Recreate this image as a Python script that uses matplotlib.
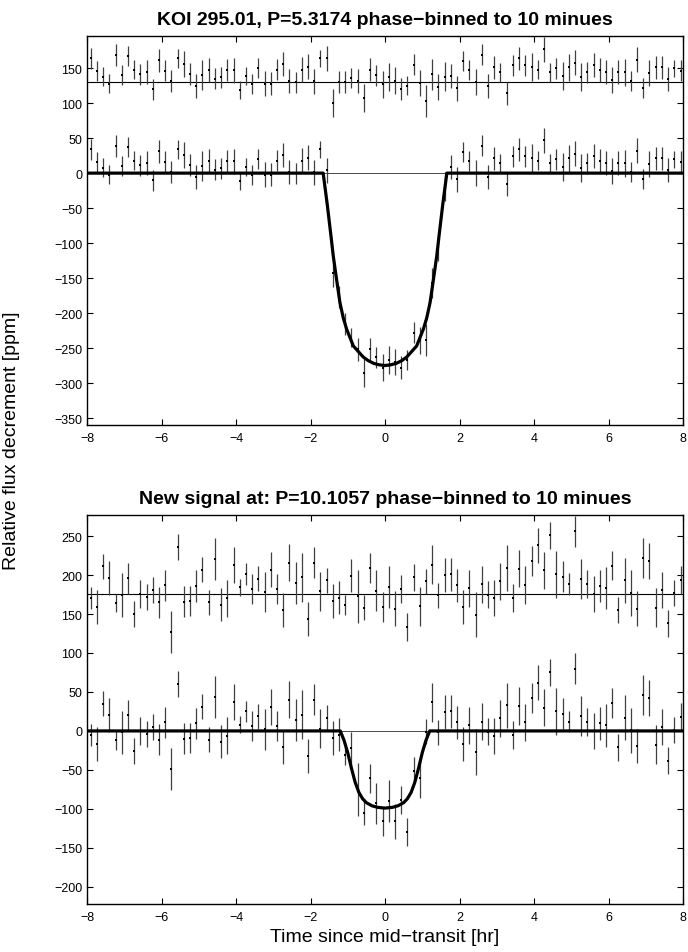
import numpy as np
import matplotlib
matplotlib.use("Agg")
import matplotlib.pyplot as plt

plt.rcParams["font.family"] = ["Liberation Sans", "DejaVu Sans"]

# 10-minute phase bins, -8..8 hr
n_bins = 96
t_bins = -7.9 + np.arange(n_bins) / 6.0

# ---- KOI 295.01 (top panel) ----
top_resid = [34, 16, 8, -2, 39, 10, 37, 18, 11, 14, -10, 31, 16, 2, 34, 26, 12, -5, 10, 17,
             5, 7, 17, 17, -11, 9, -3, 20, -2, -2,
             18, 26, 2, 0, 18, 22, 1, 34, 34, -30, 0, 0, 6, 2, -22, 18, 10, -3, 8, 2,
             -10, -5, 25, -1, -27, 11, -7, 8, 9, -9, 30, 17, 0, 39,
             -6, 21, 14, -16, 24, 34, 24, 21, 18, 47, 14, 20, 9, 21, 28, 8, 14, 25, 17, 14,
             3, 15, 14, 2, 32, -8, 13, 21, 21, 5, 20, 16]
top_err = [15, 14, 14, 13, 16, 14, 14, 13, 15, 17, 15, 17, 15, 16, 14, 19, 16, 17, 21, 17,
           15, 15, 16, 18, 13, 13, 14, 14, 18, 17,
           15, 17, 17, 15, 18, 18, 18, 12, 18, 20, 16, 16, 14, 17, 20, 16, 15, 19, 20, 19,
           16, 14, 15, 19, 23, 22, 18, 21, 17, 18, 14, 14, 19, 15,
           17, 16, 14, 16, 15, 16, 15, 20, 14, 18, 14, 15, 20, 19, 18, 20, 15, 17, 17, 17,
           18, 17, 19, 14, 18, 14, 18, 16, 16, 17, 12, 15]
top_model_bins = ([0] * 38 +
                  [-30, -113, -177, -216, -241, -254, -263, -269, -273, -275,
                   -275, -272, -268, -262, -253, -238, -211, -168, -100, -27] +
                  [0] * 38)
top_model_t = [-8, -1.66, -1.55, -1.45, -1.39, -1.3, -1.21, -1.12, -1.03, -0.85, -0.7,
               -0.58, -0.45, -0.3, -0.15, 0, 0.15, 0.3, 0.45, 0.58, 0.7, 0.85, 1.03,
               1.12, 1.21, 1.3, 1.39, 1.45, 1.55, 1.66, 8]
top_model_v = [0, 0, -45, -90, -118, -152, -185, -207, -223, -247, -256, -263, -268,
               -272, -274, -275, -274, -272, -268, -263, -256, -247, -223, -207, -185,
               -152, -118, -90, -45, 0, 0]
top_offset = 130

# ---- New signal (bottom panel) ----
bot_resid = [-5, -17, 35, 20, -12, -2, 20, -26, 0, -4, 5, -11, 11, -49, 60, -10, -9, 10, 31, -11,
             44, -14, -6, 37, 8, 25, 6, 19, 2, 31,
             6, -21, 40, 14, 21, -32, 40, 3, 17, -9, -5, -14, 23, -3, -18, 33, 4, -17, 9, -19,
             6, -43, 21, -16, 16, 37, -2, 24, 25, 11, -17, 7, -27, 12,
             -1, -6, 16, 33, -5, 32, 11, 42, 62, 30, 75, 25, 22, 12, 80, 19, 12, 0, 10, 7,
             36, -21, 17, 1, -19, 46, 42, -18, 5, -38, 1, 18]
bot_err = [14, 22, 16, 22, 12, 28, 20, 17, 18, 17, 17, 20, 20, 27, 17, 20, 19, 20, 16, 16,
           27, 21, 24, 23, 11, 14, 19, 16, 26, 23,
           19, 22, 24, 27, 31, 22, 20, 25, 16, 22, 21, 13, 21, 34, 16, 19, 26, 19, 27, 22,
           18, 18, 17, 25, 16, 25, 16, 22, 21, 21, 22, 24, 29, 24,
           17, 23, 24, 29, 18, 24, 24, 19, 22, 24, 17, 30, 20, 14, 20, 26, 18, 23, 21, 27,
           19, 17, 29, 29, 22, 26, 23, 25, 23, 17, 17, 18]
bot_model_bins = ([0] * 41 +
                  [-17, -45, -72, -87, -94, -97, -99, -99, -97, -94, -87, -72, -45, -17] +
                  [0] * 41)
bot_model_t = [-8, -1.2, -1.1, -1.0, -0.9, -0.8, -0.7, -0.6, -0.5, -0.35, -0.2, 0,
               0.2, 0.35, 0.5, 0.6, 0.7, 0.8, 0.9, 1.0, 1.1, 1.2, 8]
bot_model_v = [0, 0, -12, -28, -48, -66, -79, -87, -92, -96, -98, -99,
               -98, -96, -92, -87, -79, -66, -48, -28, -12, 0, 0]
bot_offset = 176

W, H = 688, 953
fig = plt.figure(figsize=(W / 100, H / 100), dpi=100)


def minus(v):
    return f"{v:d}".replace("-", "\u2212")


def panel(rect, resid, err, model_bins, mt, mv, offset, ylim, yticks, title):
    ax = fig.add_axes(rect)
    resid = np.asarray(resid, float)
    flux = resid + np.asarray(model_bins, float)
    ekw = dict(fmt="none", ecolor="#404040", elinewidth=0.9, capsize=0, zorder=2)
    ax.errorbar(t_bins, flux, yerr=err, **ekw)
    ax.errorbar(t_bins, resid + offset, yerr=err, **ekw)
    ax.plot(t_bins, flux, "s", color="k", ms=1.6, mew=0, zorder=3)
    ax.plot(t_bins, resid + offset, "s", color="k", ms=1.6, mew=0, zorder=3)
    ax.axhline(0, color="k", lw=0.5, zorder=1)
    ax.axhline(offset, color="k", lw=0.8, zorder=1)
    ax.plot(mt, mv, color="k", lw=2.3, zorder=4)
    ax.set_xlim(-8, 8)
    ax.set_ylim(*ylim)
    ax.set_xticks(np.arange(-8, 9, 2))
    ax.set_yticks(yticks)
    ax.set_xticklabels([minus(v) for v in range(-8, 9, 2)])
    ax.set_yticklabels([minus(v) for v in yticks])
    ax.tick_params(direction="in", length=4, width=0.8, labelsize=9,
                   top=True, right=True)
    ax.tick_params(axis="x", pad=5)
    ax.tick_params(axis="y", pad=3.5)
    for s in ax.spines.values():
        s.set_linewidth(1.0)
    ax.set_title(title, fontsize=14, fontweight="bold", pad=8.5)
    return ax


ax_top = panel([87 / W, 1 - 426 / H, 596 / W, 389 / H], top_resid, top_err,
               top_model_bins, top_model_t, top_model_v, top_offset, (-360, 196),
               list(range(-350, 151, 50)),
               "KOI 295.01, P=5.3174 phase\u2212binned to 10 minues")
ax_bot = panel([87 / W, 1 - 905 / H, 596 / W, 389 / H], bot_resid, bot_err,
               bot_model_bins, bot_model_t, bot_model_v, bot_offset, (-222, 277),
               list(range(-200, 251, 50)),
               "New signal at: P=10.1057 phase\u2212binned to 10 minues")

fig.text(385 / W, 1 - 938 / H, "Time since mid\u2212transit [hr]",
         ha="center", va="center", fontsize=14)
fig.text(12 / W, 1 - 441 / H, "Relative flux decrement [ppm]", rotation=90,
         ha="center", va="center", fontsize=14)

fig.savefig("out.png", dpi=100)
